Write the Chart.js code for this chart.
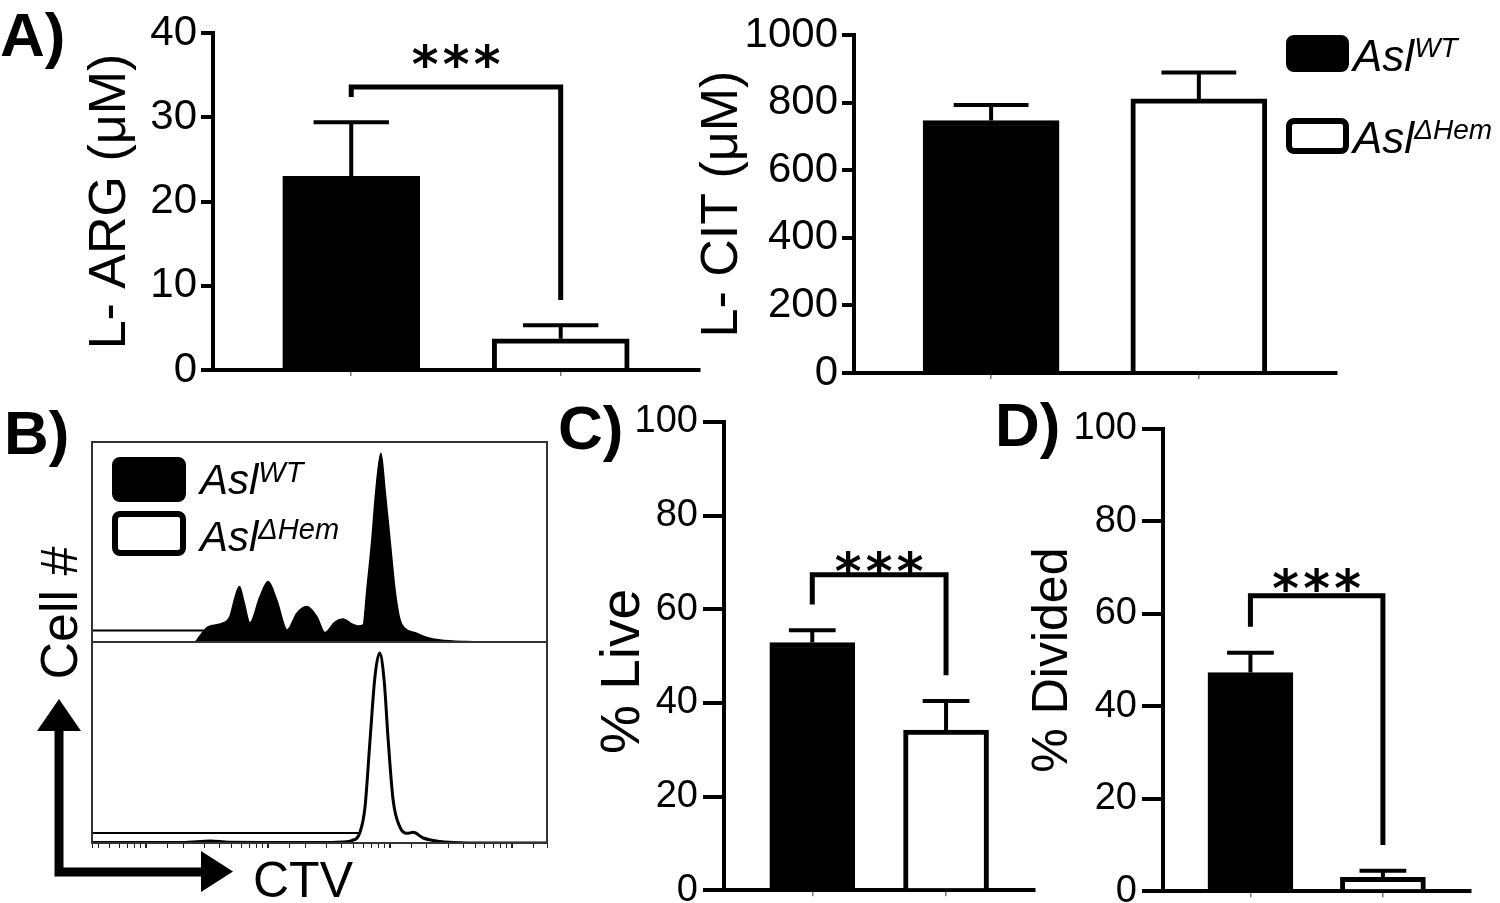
<!DOCTYPE html>
<html>
<head>
<meta charset="utf-8">
<script src="https://cdn.jsdelivr.net/npm/chart.js@4"></script>
<style>
  html, body { margin: 0; padding: 0; background: #fff; }
  body { width: 1500px; height: 903px; position: relative; overflow: hidden; font-family: 'Liberation Sans', Arial, sans-serif; color: #000; }
  canvas { position: absolute; }
  .lbl { position: absolute; white-space: nowrap; }
  .panel { font-weight: bold; font-size: 62px; line-height: 62px; }
  .leg { font-style: italic; }
  .leg span { position: relative; }
  .sw { position: absolute; box-sizing: border-box; border: 6px solid #000; border-radius: 8px; background: #fff; }
  .sw.fill { background: #000; }
</style>
</head>
<body>

<div class="lbl panel" style="left:0px;top:4px;">A)</div>
<div class="lbl panel" style="left:4px;top:402px;">B)</div>
<div class="lbl panel" style="left:558px;top:397px;">C)</div>
<div class="lbl panel" style="left:995px;top:394px;">D)</div>

<canvas id="argChart" width="658" height="400" style="left:50px;top:0px;"></canvas>
<canvas id="citChart" width="675" height="403" style="left:670px;top:0px;"></canvas>
<canvas id="liveChart" width="463" height="526" style="left:580px;top:392px;"></canvas>
<canvas id="divChart" width="469" height="520" style="left:1010px;top:399px;"></canvas>
<canvas id="wtHist" width="461" height="206" style="left:89px;top:439px;"></canvas>
<canvas id="hemHist" width="461" height="213" style="left:89px;top:639px;"></canvas>

<!-- legend, panel A -->
<div class="sw fill" style="left:1286px;top:35px;width:63px;height:37px;"></div>
<div class="sw" style="left:1286px;top:118px;width:63px;height:36px;"></div>
<div class="lbl leg" style="left:1353px;top:34px;font-size:44px;line-height:44px;">Asl<span style="font-size:28px;top:-14px;">WT</span></div>
<div class="lbl leg" style="left:1353px;top:116px;font-size:44px;line-height:44px;">Asl<span style="font-size:28px;top:-14px;">ΔHem</span></div>

<!-- legend, panel B -->
<div class="sw fill" style="left:112px;top:457px;width:74px;height:45px;"></div>
<div class="sw" style="left:112px;top:511px;width:74px;height:45px;"></div>
<div class="lbl leg" style="left:200px;top:459px;font-size:42px;line-height:42px;">Asl<span style="font-size:29px;top:-12px;">WT</span></div>
<div class="lbl leg" style="left:200px;top:516px;font-size:42px;line-height:42px;">Asl<span style="font-size:29px;top:-12px;">ΔHem</span></div>

<!-- axis arrows, panel B -->
<svg width="260" height="903" style="position:absolute;left:0;top:0;">
  <path d="M59,728 L59,872 L204,872" fill="none" stroke="#000" stroke-width="9" stroke-linejoin="miter"/>
  <polygon points="37,731 81,731 59,699" fill="#000"/>
  <polygon points="201,851 201,892 233,871.5" fill="#000"/>
</svg>
<div class="lbl" style="left:59px;top:613px;font-size:52px;line-height:52px;transform:translate(-50%,-50%) rotate(-90deg);">Cell #</div>
<div class="lbl" style="left:253px;top:855px;font-size:50px;line-height:50px;">CTV</div>

<script>
Chart.defaults.font.family = "'Liberation Sans', Arial, sans-serif";
Chart.defaults.color = '#000';

const groups = ['Asl WT', 'Asl ΔHem'];

// A) plasma amino acids
const argMean = [23.0, 3.7];
const argSem = [6.4, 1.6];
const citMean = [747, 811];
const citSem = [46, 78];
// C) / D) T cell assays
const liveMean = [52.9, 34.2];
const liveSem = [2.6, 6.2];
const dividedMean = [47.3, 3.0];
const dividedSem = [4.3, 1.4];

// significance brackets: [top, left leg end, right leg end, stars centre]
const argBracket = [33.6, 32.4, 8.3, 37.3];
const liveBracket = [67.4, 61.0, 45.9, 70.0];
const dividedBracket = [63.9, 57.2, 10.0, 67.5];

const argTicks = [0, 10, 20, 30, 40];
const citTicks = [0, 200, 400, 600, 800, 1000];
const pctTicks = [0, 20, 40, 60, 80, 100];

// B) CTV dilution histograms (normalised counts)
const wtCTV = [0, 22.6, 23.7, 25.5, 28.6, 30.3, 31.4, 32.4, 33.4, 34.7, 36.9, 38.7, 40.6, 42.9, 45.0, 47.2, 49.4, 51.2, 53.4, 55.2, 57.1, 58.5, 59.6, 60.4, 61.5, 62.4, 63.5, 64.4, 65.5, 66.6, 67.7, 68.8, 71.4, 73.6, 76.5, 82.4, 89.7, 100];
const wtCount = [0, 0, 3, 7.6, 9.3, 12.7, 22, 27.7, 20, 9.5, 22.6, 30.2, 21, 6, 14.3, 17.7, 12.7, 4.7, 10, 11.5, 9, 8, 8.5, 26, 51, 76, 94.4, 76, 51, 26, 11, 6.8, 4.3, 2.3, 1, 0.2, 0, 0];
const hemCTV = [0, 20, 26, 30, 40, 50, 55, 57.1, 58.9, 60.0, 61.1, 62.2, 63.2, 64.2, 65.1, 66.2, 67.7, 69.2, 70.6, 72.8, 76.5, 80.9, 90, 100];
const hemCount = [0.3, 0.3, 1.0, 0.4, 0.3, 0.2, 0.5, 1.2, 5.3, 17.8, 51, 83, 94.5, 81, 51, 21, 7.8, 4.8, 5.3, 2.5, 0.8, 0.15, 0, 0];
// gate marker: [level, right end]
const wtGate = [5.7, 24.8];
const hemGate = [5.0, 58.9];

const starFont = "'DejaVu Sans', sans-serif";

// error bars (upper only) + bracket with stars
function barMarks(bracket) {
  return {
    id: 'barMarks',
    afterDatasetsDraw(chart) {
      const ctx = chart.ctx;
      const y = chart.scales.y;
      const ds = chart.data.datasets[0];
      const bars = chart.getDatasetMeta(0).data;
      ctx.save();
      ctx.strokeStyle = '#000';
      ctx.lineWidth = 4;
      bars.forEach((bar, i) => {
        const yTop = y.getPixelForValue(ds.data[i].y + ds.sem[i]);
        const half = bar.width * 0.275;
        ctx.beginPath();
        ctx.moveTo(bar.x, bar.y);
        ctx.lineTo(bar.x, yTop);
        ctx.moveTo(bar.x - half, yTop);
        ctx.lineTo(bar.x + half, yTop);
        ctx.stroke();
      });
      if (bracket) {
        const x0 = bars[0].x, x1 = bars[1].x;
        ctx.lineWidth = 5;
        ctx.lineJoin = 'miter';
        ctx.beginPath();
        ctx.moveTo(x0, y.getPixelForValue(bracket[1]));
        ctx.lineTo(x0, y.getPixelForValue(bracket[0]));
        ctx.lineTo(x1, y.getPixelForValue(bracket[0]));
        ctx.lineTo(x1, y.getPixelForValue(bracket[2]));
        ctx.stroke();
        // stars
        ctx.font = "bold 100px " + starFont;
        let m = ctx.measureText('*');
        const size = 100 * 24 / (m.actualBoundingBoxAscent + m.actualBoundingBoxDescent);
        ctx.font = "bold " + size + "px " + starFont;
        m = ctx.measureText('*');
        const cy = y.getPixelForValue(bracket[3]);
        const base = cy + (m.actualBoundingBoxAscent - m.actualBoundingBoxDescent) / 2;
        const mid = (x0 + x1) / 2;
        ctx.fillStyle = '#000';
        ctx.textAlign = 'center';
        ctx.textBaseline = 'alphabetic';
        [-31, 0, 31].forEach(dx => ctx.fillText('*', mid + dx, base));
      }
      ctx.restore();
    }
  };
}

function makeBar(id, means, sems, bracket, tickVals, o) {
  return new Chart(document.getElementById(id), {
    type: 'bar',
    data: {
      datasets: [{
        label: o.title,
        data: means.map((v, i) => ({ x: i + 1, y: v })),
        sem: sems,
        backgroundColor: ['#000', '#fff'],
        borderColor: '#000',
        borderWidth: 5,
        barThickness: o.barW
      }]
    },
    options: {
      responsive: false,
      animation: false,
      devicePixelRatio: 1,
      layout: { padding: { top: o.padTop, right: 8, left: 0, bottom: 0 } },
      plugins: { legend: { display: false }, tooltip: { enabled: false } },
      scales: {
        x: {
          type: 'linear', min: 0.34, max: 2.665, offset: false,
          ticks: { display: false },
          grid: { offset: false, drawOnChartArea: false, tickLength: 6, lineWidth: 1.5, color: '#777' },
          border: { color: '#000', width: 4 },
          afterBuildTicks: s => { s.ticks = groups.map((g, i) => ({ value: i + 1 })); },
          afterFit: s => { s.height = o.xH; }
        },
        y: {
          min: 0, max: tickVals[tickVals.length - 1],
          afterBuildTicks: s => { s.ticks = tickVals.map(v => ({ value: v })); },
          ticks: { font: { size: o.tickSize }, color: '#000', padding: o.tickPad, callback: v => String(v) },
          grid: { drawOnChartArea: false, tickLength: o.tickLen, lineWidth: 4, color: '#000' },
          border: { color: '#000', width: 4 },
          title: { display: true, text: o.title, color: '#000', font: { size: o.titleSize }, padding: { top: o.titlePad, bottom: 0 } },
          afterFit: s => { s.width = o.yW; }
        }
      }
    },
    plugins: [barMarks(bracket)]
  });
}

makeBar('argChart', argMean, argSem, argBracket, argTicks,
  { title: 'L- ARG (μM)', titleSize: 52, titlePad: 29, yW: 163, padTop: 33, xH: 30, barW: 137, tickSize: 42, tickLen: 12, tickPad: 4 });
makeBar('citChart', citMean, citSem, null, citTicks,
  { title: 'L- CIT (μM)', titleSize: 52, titlePad: 21, yW: 184, padTop: 35, xH: 30, barW: 136, tickSize: 42, tickLen: 12, tickPad: 4 });
makeBar('liveChart', liveMean, liveSem, liveBracket, pctTicks,
  { title: '% Live  ', titleSize: 55, titlePad: 11, yW: 144, padTop: 30, xH: 26, barW: 85, tickSize: 38, tickLen: 21, tickPad: 5 });
makeBar('divChart', dividedMean, dividedSem, dividedBracket, pctTicks,
  { title: '% Divided', titleSize: 50, titlePad: 13, yW: 153, padTop: 30, xH: 26, barW: 85, tickSize: 38, tickLen: 21, tickPad: 5 });

// frame around each histogram
const frame = {
  id: 'frame',
  afterDraw(chart) {
    const a = chart.chartArea, ctx = chart.ctx;
    ctx.save();
    ctx.strokeStyle = '#333';
    ctx.lineWidth = 2;
    ctx.strokeRect(a.left, a.top, a.right - a.left, a.bottom - a.top);
    ctx.restore();
  }
};

function makeHist(id, xs, ys, gate, filled, withTicks) {
  const scales = {
    x: { type: 'linear', min: 0, max: 100, display: false },
    y: { min: 0, max: 100, display: false }
  };
  if (withTicks) {
    scales.xt = {
      type: 'logarithmic', position: 'bottom', min: 35.7, max: 193800,
      ticks: { display: false },
      grid: { drawOnChartArea: false, tickLength: 5, color: '#222', lineWidth: c => (c.tick && c.tick.major ? 2 : 1) },
      border: { display: false },
      afterFit: s => { s.height = 6; }
    };
  }
  return new Chart(document.getElementById(id), {
    type: 'line',
    data: {
      datasets: [
        {
          data: xs.map((x, i) => ({ x: x, y: ys[i] })),
          fill: filled ? 'origin' : false,
          backgroundColor: '#000',
          borderColor: '#000',
          borderWidth: filled ? 1.5 : 3,
          pointRadius: 0,
          cubicInterpolationMode: 'monotone'
        },
        {
          data: [{ x: 0, y: gate[0] }, { x: gate[1], y: gate[0] }],
          borderColor: '#000',
          borderWidth: 2,
          pointRadius: 0,
          fill: false
        }
      ]
    },
    options: {
      responsive: false,
      animation: false,
      devicePixelRatio: 1,
      layout: { padding: 3 },
      plugins: { legend: { display: false }, tooltip: { enabled: false } },
      scales: scales
    },
    plugins: [frame]
  });
}

makeHist('wtHist', wtCTV, wtCount, wtGate, true, false);
makeHist('hemHist', hemCTV, hemCount, hemGate, false, true);
</script>
</body>
</html>
